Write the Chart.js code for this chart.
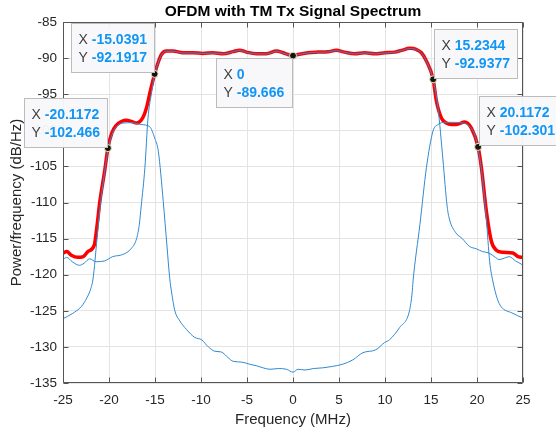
<!DOCTYPE html>
<html>
<head>
<meta charset="utf-8">
<script src="https://cdn.jsdelivr.net/npm/chart.js@4.4.1/dist/chart.umd.min.js"></script>
<style>
  html, body { margin: 0; padding: 0; background: #fff; }
</style>
</head>
<body>
<canvas id="spec" width="556" height="433"></canvas>
<script>
// -----------------------------
// DATA
// -----------------------------
// total spectrum (thick red)
const totalFreq = [-25, -24.6, -24.1, -23.4, -22.8, -22.3, -21.6, -21.3, -21.0, -20.47, -20.1172, -19.7, -19.2, -18.6, -18.1, -17.5, -17.0, -16.66, -16.3, -15.93, -15.5, -15.0391,
  -14.67, -14.3, -13.76, -13.04, -11.96, -10.87, -9.8, -8.7, -7.6, -6.5, -5.8, -5.07, -3.98, -2.9, -1.8, -1.09, -0.54, 0, 0.54, 1.63, 2.7, 3.8, 4.7, 5.6, 6.7, 7.8, 8.9, 9.97, 11.05, 11.8, 12.7, 13.4, 13.96, 14.5,
  15.2344, 15.59, 16.13, 16.67, 17.2, 17.76, 18.66, 19.39, 20.1172, 20.48, 21.02, 21.57, 22.1, 22.83, 23.9, 24.46, 25];
const totalPow = [-117.0, -116.8, -117.3, -117.6, -117.5, -116.8, -115.9, -113.2, -109.9, -105.6, -102.466, -100.4, -99.3, -98.75, -98.6, -98.8, -99.0, -98.8, -98.2, -96.9, -94.5, -92.1917,
  -90.65, -89.5, -89.03, -89.03, -89.26, -89.26, -89.35, -89.26, -89.4, -89.1, -88.9, -89.17, -89.4, -89.4, -89.03, -89.26, -89.5, -89.666, -89.5, -89.26, -89.17, -89.12, -88.93, -89.17, -89.4, -89.26, -89.4, -89.26, -89.17, -88.93, -88.65, -88.8, -89.26, -90.4,
  -92.9377, -95.97, -98.3, -99.0, -99.2, -99.2, -98.85, -99.7, -102.301, -105.2, -111.25, -115.4, -116.6, -116.9, -117.0, -117.5, -117.6];

// wanted OFDM signal (thin blue)
const mainFreq = [-25, -24.6, -24.0, -23.2, -22.7, -22.1, -21.4, -20.5, -19.6, -18.5, -17.6, -17.0, -16.7, -16.5, -16.1, -15.76, -15.4, -15.04,
  -14.67, -14.3, -13.76, -13.04, -11.96, -10.87, -9.8, -8.7, -7.6, -6.5, -5.8, -5.07, -3.98, -2.9, -1.8, -1.09, -0.54, 0, 0.54, 1.63, 2.7, 3.8, 4.7, 5.6, 6.7, 7.8, 8.9, 9.97, 11.05, 11.8, 12.7, 13.4, 13.96, 14.5,
  15.23, 15.76, 16.3, 16.75, 17.0, 17.7, 18.4, 19.2, 19.9, 20.6, 21.3, 22.0, 22.4, 23.0, 23.5, 24.2, 24.9, 25];
const mainPow = [-117.9, -117.6, -118.2, -118.7, -118.4, -117.8, -118.2, -118.1, -117.5, -117.2, -116.4, -115.0, -113.0, -110.5, -105.2, -98.3, -95.0, -92.3,
  -90.7, -89.55, -89.05, -89.05, -89.28, -89.28, -89.37, -89.28, -89.42, -89.12, -88.92, -89.19, -89.42, -89.42, -89.05, -89.28, -89.52, -89.68, -89.52, -89.28, -89.19, -89.14, -88.95, -89.19, -89.42, -89.28, -89.42, -89.28, -89.19, -88.95, -88.67, -88.82, -89.28, -90.45,
  -93.0, -96.9, -104.1, -110.5, -112.3, -114.2, -115.0, -116.1, -116.4, -116.8, -117.0, -117.6, -117.9, -117.7, -117.5, -118.1, -118.6, -118.7];

// adjacent channels + in-band floor (thin blue)
const adjFreq = [-25, -24, -23, -22.4, -22.0, -21.74, -21.3, -21.0, -20.5, -20.1172, -19.7, -19.2, -18.5, -17.5, -16.5, -15.58, -15.03, -14.64, -14.1, -13.7, -13.4, -13.2, -12.84,
  -12.3, -11.57, -10.67, -9.95, -9.2, -8.5, -7.8, -7.05, -6.5, -5.6, -4.7, -4.0, -3.25, -2.5, -1.6, -0.7, 0, 0.55, 1.3, 2.2, 3.25, 4.3, 5.4, 6.5, 7.6, 9.0, 9.95, 10.5, 11.6, 12.66,
  12.95, 13.04, 13.8, 14.5, 15.22, 15.76, 16.5, 17.5, 18.5, 19.3, 19.8, 20.1172, 20.5, 20.84, 21.0, 21.38, 21.74, 22.2, 22.6, 23.8, 25];
const adjPow = [-126.1, -125.4, -124.4, -123.2, -122.0, -120.6, -115.0, -111.0, -106.0, -102.8, -100.7, -99.5, -99.0, -98.95, -99.2, -99.5, -101.1, -102.9, -109.9, -116.0, -120.5, -122.4, -125.0,
  -126.4, -127.6, -128.7, -129.0, -130.0, -130.6, -130.7, -131.5, -132.0, -132.1, -132.4, -132.6, -132.9, -133.1, -133.0, -133.1, -133.5, -133.1, -133.2, -133.0, -132.9, -132.7, -132.4, -131.8, -130.8, -130.4, -129.4, -129.0, -127.3, -125.0,
  -122.5, -121.0, -113.0, -105.2, -100.1, -99.2, -98.9, -98.9, -99.0, -99.6, -100.8, -102.6, -105.6, -109.8, -112.0, -118.2, -121.0, -123.3, -124.4, -125.3, -126.0];

// data tips
const tipFreq = [-20.1172, -15.0391, 0, 15.2344, 20.1172];
const tipPow = [-102.466, -92.1917, -89.666, -92.9377, -102.301];
const tipSide = ['ul', 'ul', 'll', 'ur', 'ur'];

const xTicks = [-25, -20, -15, -10, -5, 0, 5, 10, 15, 20, 25];
const yTicks = [-135, -130, -125, -120, -115, -110, -105, -100, -95, -90, -85];

const pts = (xs, ys) => xs.map((v, i) => ({ x: v, y: ys[i] }));

const FONT = '"Liberation Sans", Arial, Helvetica, sans-serif';
const AXIS_COL = '#262626';
const LINE_BLUE = '#3189d0';

// -----------------------------
// FRAME, TITLES, DATA TIPS
// -----------------------------
const framePlugin = {
  id: 'frame',
  afterDatasetsDraw(chart) {
    const { ctx, chartArea: a, scales } = chart;
    const L = Math.round(a.left) + 0.5, R = Math.round(a.right) - 0.5;
    const T = Math.round(a.top) + 0.5, B = Math.round(a.bottom) - 0.5;
    ctx.save();
    ctx.strokeStyle = '#555';
    ctx.lineWidth = 1;
    ctx.beginPath();
    ctx.rect(L, T, R - L, B - T);
    xTicks.forEach(v => {
      const px = Math.round(scales.x.getPixelForValue(v)) + 0.5;
      ctx.moveTo(px, B); ctx.lineTo(px, B - 5);
      ctx.moveTo(px, T); ctx.lineTo(px, T + 5);
    });
    yTicks.forEach(v => {
      const py = Math.round(scales.y.getPixelForValue(v)) + 0.5;
      ctx.moveTo(L, py); ctx.lineTo(L + 5, py);
      ctx.moveTo(R, py); ctx.lineTo(R - 5, py);
    });
    ctx.stroke();

    // titles
    ctx.fillStyle = '#000';
    ctx.textAlign = 'center';
    ctx.textBaseline = 'middle';
    ctx.font = 'bold 15.5px ' + FONT;
    ctx.fillText('OFDM with TM Tx Signal Spectrum', (a.left + a.right) / 2, 12);
    ctx.fillStyle = AXIS_COL;
    ctx.font = '15px ' + FONT;
    ctx.fillText('Frequency (MHz)', (a.left + a.right) / 2, 420);
    ctx.translate(17, (a.top + a.bottom) / 2);
    ctx.rotate(-Math.PI / 2);
    ctx.fillText('Power/frequency (dB/Hz)', 0, 0);
    ctx.restore();
  },
  afterDraw(chart) {
    const { ctx, scales } = chart;
    ctx.save();
    tipFreq.forEach((f, i) => {
      const px = scales.x.getPixelForValue(f);
      const py = scales.y.getPixelForValue(tipPow[i]);
      const lines = [['X', String(f)], ['Y', String(tipPow[i])]];
      ctx.font = '14px ' + FONT;
      const lw = ctx.measureText('X ').width;
      ctx.font = 'bold 14px ' + FONT;
      const vw = Math.max(...lines.map(l => ctx.measureText(l[1]).width));
      const w = Math.round(lw + vw + 15), h = 49;
      const side = tipSide[i];
      let bx = side[1] === 'l' ? px - 1 - w : px + 1;
      let by = side[0] === 'u' ? py - 1.5 - h : py + 2;
      bx = Math.round(bx) + 0.5; by = Math.round(by) + 0.5;

      ctx.fillStyle = 'rgba(248,248,251,0.96)';
      ctx.strokeStyle = '#bcbcbc';
      ctx.lineWidth = 1;
      ctx.fillRect(bx, by, w, h);
      ctx.strokeRect(bx, by, w, h);

      ctx.textAlign = 'left';
      ctx.textBaseline = 'middle';
      lines.forEach((l, k) => {
        const ty = by + 16.5 + k * 17.7;
        ctx.font = '14px ' + FONT;
        ctx.fillStyle = '#404040';
        ctx.fillText(l[0], bx + 7, ty);
        ctx.font = 'bold 14px ' + FONT;
        ctx.fillStyle = '#1296f5';
        ctx.fillText(l[1], bx + 7 + lw, ty);
      });
    });
    ctx.restore();
  }
};

// -----------------------------
// CHART
// -----------------------------
const ctx = document.getElementById('spec').getContext('2d');
new Chart(ctx, {
  type: 'scatter',
  data: {
    datasets: [
      {
        label: 'tips',
        data: pts(tipFreq, tipPow),
        showLine: false,
        pointRadius: 3.5,
        pointBackgroundColor: '#141414',
        pointBorderColor: '#ecebb8',
        pointBorderWidth: 1,
        order: 0
      },
      {
        label: 'main',
        data: pts(mainFreq, mainPow),
        showLine: true,
        borderColor: LINE_BLUE,
        borderWidth: 1,
        pointRadius: 0,
        cubicInterpolationMode: 'monotone',
        order: 1
      },
      {
        label: 'adjacent',
        data: pts(adjFreq, adjPow),
        showLine: true,
        borderColor: LINE_BLUE,
        borderWidth: 1,
        pointRadius: 0,
        cubicInterpolationMode: 'monotone',
        order: 2
      },
      {
        label: 'total',
        data: pts(totalFreq, totalPow),
        showLine: true,
        borderColor: '#ff0000',
        borderWidth: 3.5,
        pointRadius: 0,
        cubicInterpolationMode: 'monotone',
        order: 3
      }
    ]
  },
  options: {
    responsive: false,
    animation: false,
    devicePixelRatio: 1,
    layout: { padding: { top: 22, right: 33, left: 0, bottom: 0 } },
    plugins: {
      legend: { display: false },
      tooltip: { enabled: false }
    },
    scales: {
      x: {
        type: 'linear',
        min: -25, max: 25,
        afterFit: s => { s.height = 50; },
        afterBuildTicks: s => { s.ticks = xTicks.map(v => ({ value: v })); },
        ticks: { font: { size: 13.5, family: FONT }, color: AXIS_COL, padding: 9, maxRotation: 0 },
        grid: { color: '#e4e4e4', drawTicks: false },
        border: { display: false }
      },
      y: {
        type: 'linear',
        min: -135, max: -85,
        afterFit: s => { s.width = 63; },
        afterBuildTicks: s => { s.ticks = yTicks.map(v => ({ value: v })); },
        ticks: { font: { size: 13.5, family: FONT }, color: AXIS_COL, padding: 6 },
        grid: { color: '#e4e4e4', drawTicks: false },
        border: { display: false }
      }
    }
  },
  plugins: [framePlugin]
});
</script>
</body>
</html>
